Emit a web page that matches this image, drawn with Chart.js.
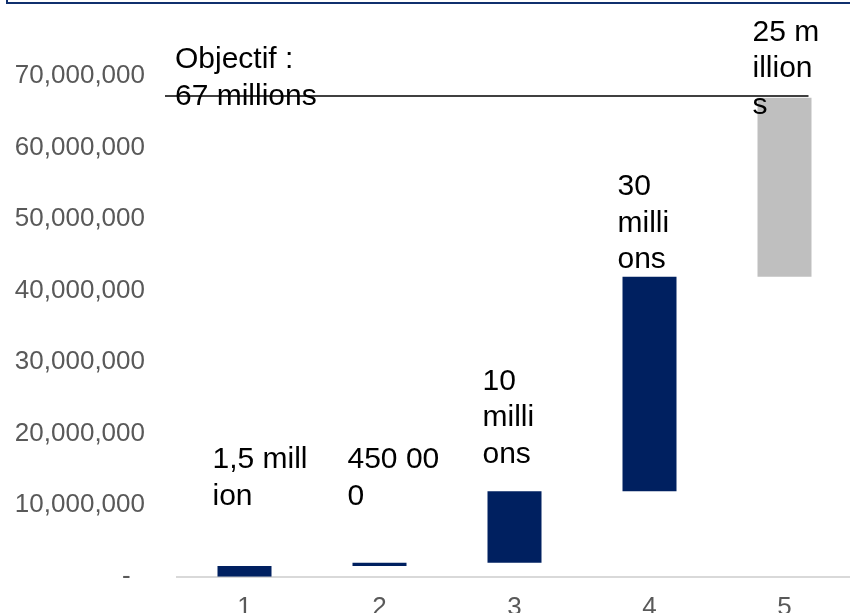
<!DOCTYPE html>
<html>
<head>
<meta charset="utf-8">
<script src="https://cdn.jsdelivr.net/npm/chart.js@4"></script>
<style>
  html, body { margin: 0; padding: 0; background: #fff; overflow: hidden; }
  body { width: 850px; height: 613px; position: relative; }
  #frame { position: absolute; left: 6px; top: -20px; width: 900px; height: 24px;
           box-sizing: border-box; border: 2px solid #10306e; }
  #chart1 { position: absolute; left: 0; top: 0; }
</style>
</head>
<body>
<div id="frame"></div>
<canvas id="chart1" width="860" height="638"></canvas>
<script>
// Données
const categories = ["1", "2", "3", "4", "5"];
const increments = [1500000, 450000, 10000000, 30000000, 25000000];
const barLabels = [
  ["1,5 mill", "ion"],
  ["450 00", "0"],
  ["10", "milli", "ons"],
  ["30", "milli", "ons"],
  ["25 m", "illion", "s"],
];
const barColors = ["#002060", "#002060", "#002060", "#002060", "#bfbfbf"];
const target = 67000000;
const targetLabel = ["Objectif :", "67 millions"];
const yMax = 70000000;
const yStep = 10000000;

// barres flottantes : début = somme des précédentes
const ranges = [];
let acc = 0;
increments.forEach(function (v) {
  ranges.push([acc, acc + v]);
  acc += v;
});

const FONT = "Liberation Sans, Arial, sans-serif";

// étiquettes + ligne objectif
const waterfallLabels = {
  id: "waterfallLabels",
  afterDatasetsDraw: function (chart, args, opts) {
    const ctx = chart.ctx;
    const x = chart.scales.x;
    const y = chart.scales.y;
    const lh = 36.7;
    ctx.save();
    ctx.fillStyle = "#000";
    ctx.font = "30px " + FONT;
    ctx.textAlign = "left";
    ctx.textBaseline = "alphabetic";

    // ligne objectif
    const meta = chart.getDatasetMeta(0);
    const last = meta.data[meta.data.length - 1];
    const ty = y.getPixelForValue(target) - 1.5;
    ctx.strokeStyle = "#000";
    ctx.lineWidth = 1.6;
    ctx.beginPath();
    ctx.moveTo(chart.chartArea.left - 12, ty);
    ctx.lineTo(last.x + last.width / 2 - 3, ty);
    ctx.stroke();

    // texte objectif
    let base = y.getPixelForValue(opts.targetBase);
    targetLabel.forEach(function (t, i) {
      ctx.fillText(t, chart.chartArea.left - 2, base - (targetLabel.length - 1 - i) * lh);
    });

    // étiquettes des barres
    barLabels.forEach(function (lines, k) {
      const cx = x.getPixelForValue(k) - 32;
      const b = y.getPixelForValue(opts.baseAt[k]);
      lines.forEach(function (t, i) {
        ctx.fillText(t, cx, b - (lines.length - 1 - i) * lh);
      });
    });
    ctx.restore();
  },
};

new Chart(document.getElementById("chart1"), {
  type: "bar",
  data: {
    labels: categories,
    datasets: [
      {
        label: "",
        data: ranges,
        backgroundColor: barColors,
        borderWidth: 0,
        barPercentage: 0.4,
        categoryPercentage: 1,
      },
    ],
  },
  options: {
    responsive: false,
    animation: false,
    layout: { padding: { top: 76, right: 8, left: 0, bottom: 0 } },
    scales: {
      x: {
        grid: { display: false, drawTicks: false },
        border: { display: true, color: "#d9d9d9", width: 2 },
        ticks: { color: "#595959", font: { family: FONT, size: 26 }, padding: 15 },
      },
      y: {
        min: 0,
        max: yMax,
        grid: { display: false, drawTicks: false },
        border: { display: false },
        ticks: {
          stepSize: yStep,
          padding: 32,
          color: "#595959",
          font: { family: FONT, size: 26 },
          callback: function (v) {
            return v === 0 ? "-  " : v.toLocaleString("en-US");
          },
        },
        afterFit: function (scale) {
          scale.width = 177;
        },
      },
    },
    plugins: {
      legend: { display: false },
      tooltip: { enabled: false },
      waterfallLabels: {
        baseAt: [10100000, 10100000, 15900000, 43100000, 64700000],
        targetBase: 66000000,
      },
    },
  },
  plugins: [waterfallLabels],
});
</script>
</body>
</html>
